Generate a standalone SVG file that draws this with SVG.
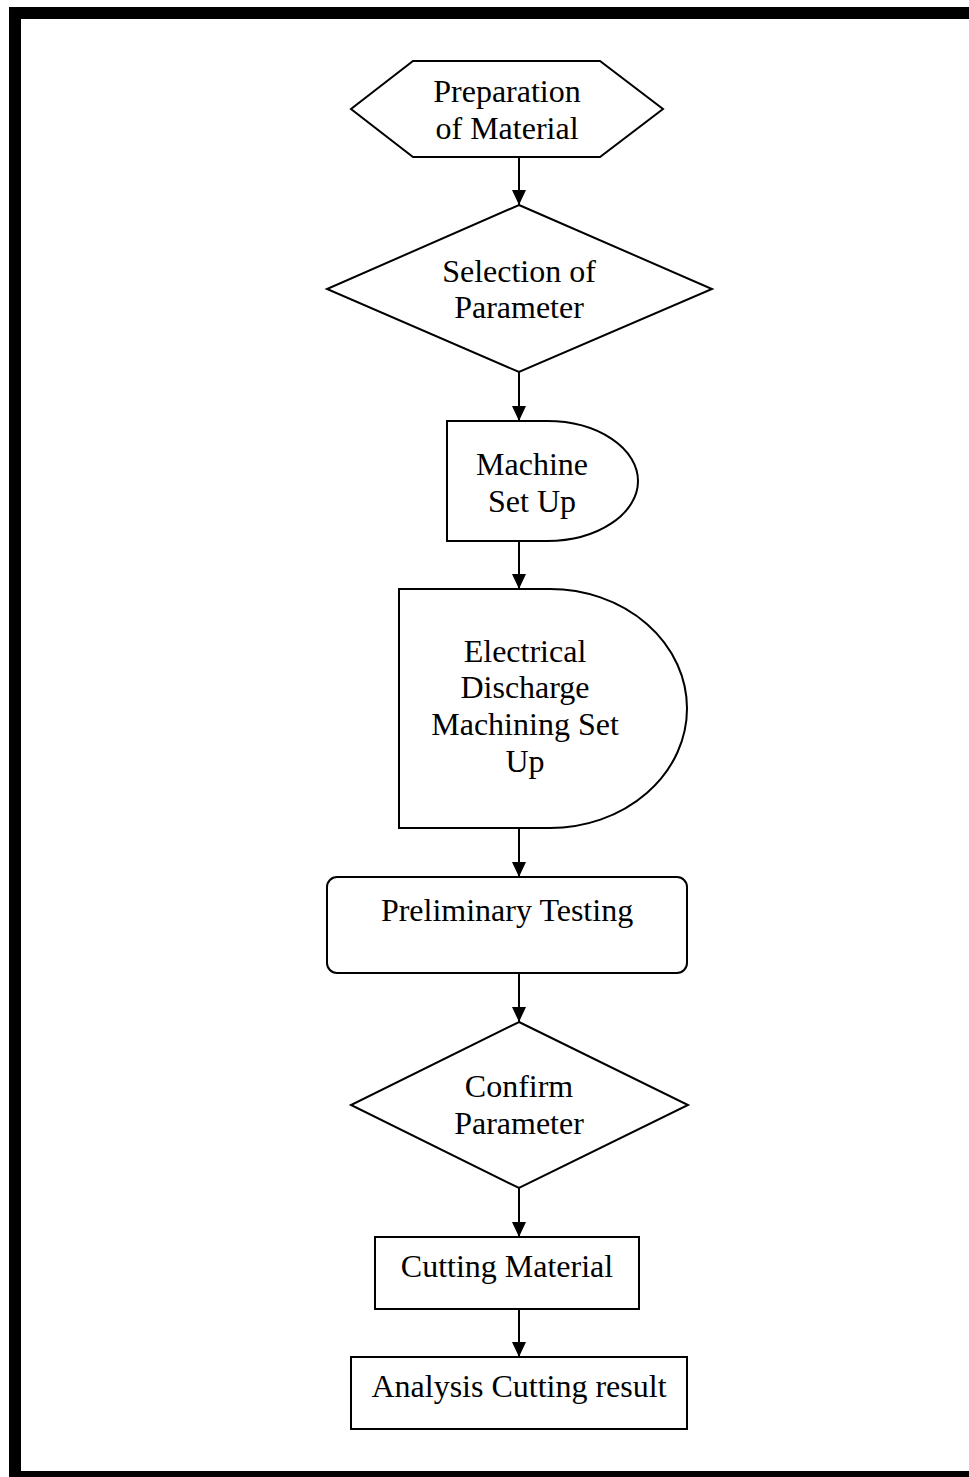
<svg xmlns="http://www.w3.org/2000/svg" width="969" height="1477" viewBox="0 0 969 1477">
<defs>
<style>
.shape{fill:#fff;stroke:#000;stroke-width:2}
.lbl{font-family:"Liberation Serif","Times New Roman",serif;font-size:32px;fill:#000;text-anchor:middle}
.conn{stroke:#000;stroke-width:2;fill:none}
</style>
<marker id="arrow" markerUnits="userSpaceOnUse" markerWidth="16" markerHeight="16" viewBox="0 0 16 16" refX="15" refY="8" orient="auto">
<path d="M0,1 L15,8 L0,15 Z" fill="#000"/>
</marker>
</defs>
<rect x="0" y="0" width="969" height="1477" fill="#fff"/>
<rect id="frame" x="15" y="13" width="1000" height="1464" fill="none" stroke="#000" stroke-width="12"/>
<g id="connectors">
<line class="conn" x1="519" y1="157" x2="519" y2="205" marker-end="url(#arrow)"/>
<line class="conn" x1="519" y1="372" x2="519" y2="421" marker-end="url(#arrow)"/>
<line class="conn" x1="519" y1="541" x2="519" y2="589" marker-end="url(#arrow)"/>
<line class="conn" x1="519" y1="828" x2="519" y2="877" marker-end="url(#arrow)"/>
<line class="conn" x1="519" y1="973" x2="519" y2="1022" marker-end="url(#arrow)"/>
<line class="conn" x1="519" y1="1188" x2="519" y2="1237" marker-end="url(#arrow)"/>
<line class="conn" x1="519" y1="1309" x2="519" y2="1357" marker-end="url(#arrow)"/>
</g>
<g id="preparation">
<polygon class="shape" points="413,61 600,61 663,109 600,157 413,157 351,109"/>
<text class="lbl" x="507" y="102">Preparation</text>
<text class="lbl" x="507" y="139">of Material</text>
</g>
<g id="selection">
<polygon class="shape" points="519,205 712,289 519,372 327,289"/>
<text class="lbl" x="519" y="282">Selection of</text>
<text class="lbl" x="519" y="318">Parameter</text>
</g>
<g id="machine">
<path class="shape" d="M447,421 H547 A91,60 0 0 1 547,541 H447 Z"/>
<text class="lbl" x="532" y="475">Machine</text>
<text class="lbl" x="532" y="512">Set Up</text>
</g>
<g id="edm">
<path class="shape" d="M399,589 H550 A137,119.5 0 0 1 550,828 H399 Z"/>
<text class="lbl" x="525" y="662">Electrical</text>
<text class="lbl" x="525" y="698">Discharge</text>
<text class="lbl" x="525" y="735">Machining Set</text>
<text class="lbl" x="525" y="772">Up</text>
</g>
<g id="preliminary">
<rect class="shape" x="327" y="877" width="360" height="96" rx="10" ry="10"/>
<text class="lbl" x="507" y="921">Preliminary Testing</text>
</g>
<g id="confirm">
<polygon class="shape" points="519,1022 688,1105 519,1188 351,1105"/>
<text class="lbl" x="519" y="1097">Confirm</text>
<text class="lbl" x="519" y="1134">Parameter</text>
</g>
<g id="cutting">
<rect class="shape" x="375" y="1237" width="264" height="72"/>
<text class="lbl" x="507" y="1277">Cutting Material</text>
</g>
<g id="analysis">
<rect class="shape" x="351" y="1357" width="336" height="72"/>
<text class="lbl" x="519" y="1397">Analysis Cutting result</text>
</g>
</svg>
